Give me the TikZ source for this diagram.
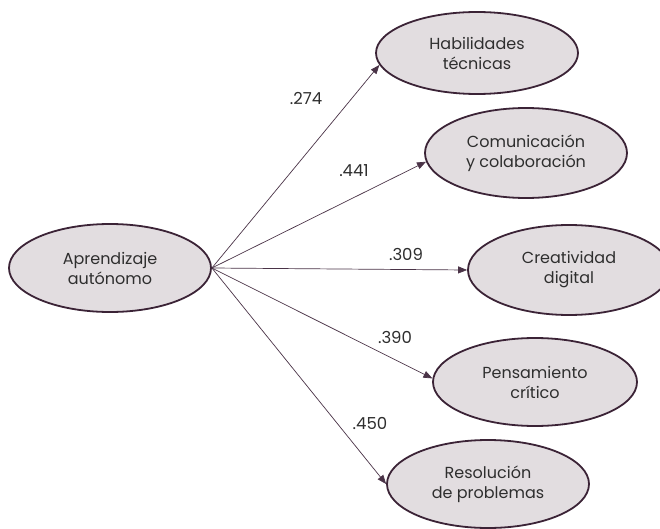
\documentclass[tikz,border=0pt]{standalone}
\usepackage{fontspec}
\setmainfont{Poppins}
\usetikzlibrary{shapes.geometric,arrows.meta}
\definecolor{fillc}{HTML}{E2DDE0}
\definecolor{edgec}{HTML}{3B2336}
\definecolor{linec}{HTML}{4A3347}
\definecolor{textc}{HTML}{2E2E2E}
\begin{document}
\begin{tikzpicture}[x=1pt,y=-1pt,
  oval/.style={ellipse, draw=edgec, line width=1.8pt, fill=fillc, inner sep=0pt,
    align=center, text=textc, font=\fontsize{16}{20}\selectfont},
  arr/.style={draw=linec, line width=0.7pt, -{Triangle[length=9pt,width=7pt]}},
  coef/.style={text=textc, font=\fontsize{16.5}{18}\selectfont, inner sep=0pt}]
\useasboundingbox (0,0) rectangle (660,529);
\node[oval, minimum width=202pt, minimum height=88pt] (src) at (110,268) {Aprendizaje\\autónomo};
\node[oval, minimum width=202pt, minimum height=82pt] (hab) at (477,53) {Habilidades\\técnicas};
\node[oval, minimum width=202pt, minimum height=90pt] (com) at (526,153) {Comunicación\\y colaboración};
\node[oval, minimum width=202pt, minimum height=90pt] (cre) at (569,270) {Creatividad\\digital};
\node[oval, minimum width=204pt, minimum height=88pt] (pen) at (535,382) {Pensamiento\\crítico};
\node[oval, minimum width=202pt, minimum height=88pt] (res) at (488,484) {Resolución\\de problemas};
\draw[arr] (src.east) -- (hab.187);
\draw[arr] (src.east) -- (com.185);
\draw[arr] (src.east) -- (cre.180);
\draw[arr] (src.east) -- (pen.178);
\draw[arr] (src.east) -- (res.180);
\node[coef] (l1) at (306,98) {.274};
\node[coef] (l2) at (354,171) {.441};
\node[coef] (l3) at (406,254) {.309};
\node[coef] (l4) at (395,337) {.390};
\node[coef] (l5) at (370,423) {.450};
\end{tikzpicture}
\end{document}
